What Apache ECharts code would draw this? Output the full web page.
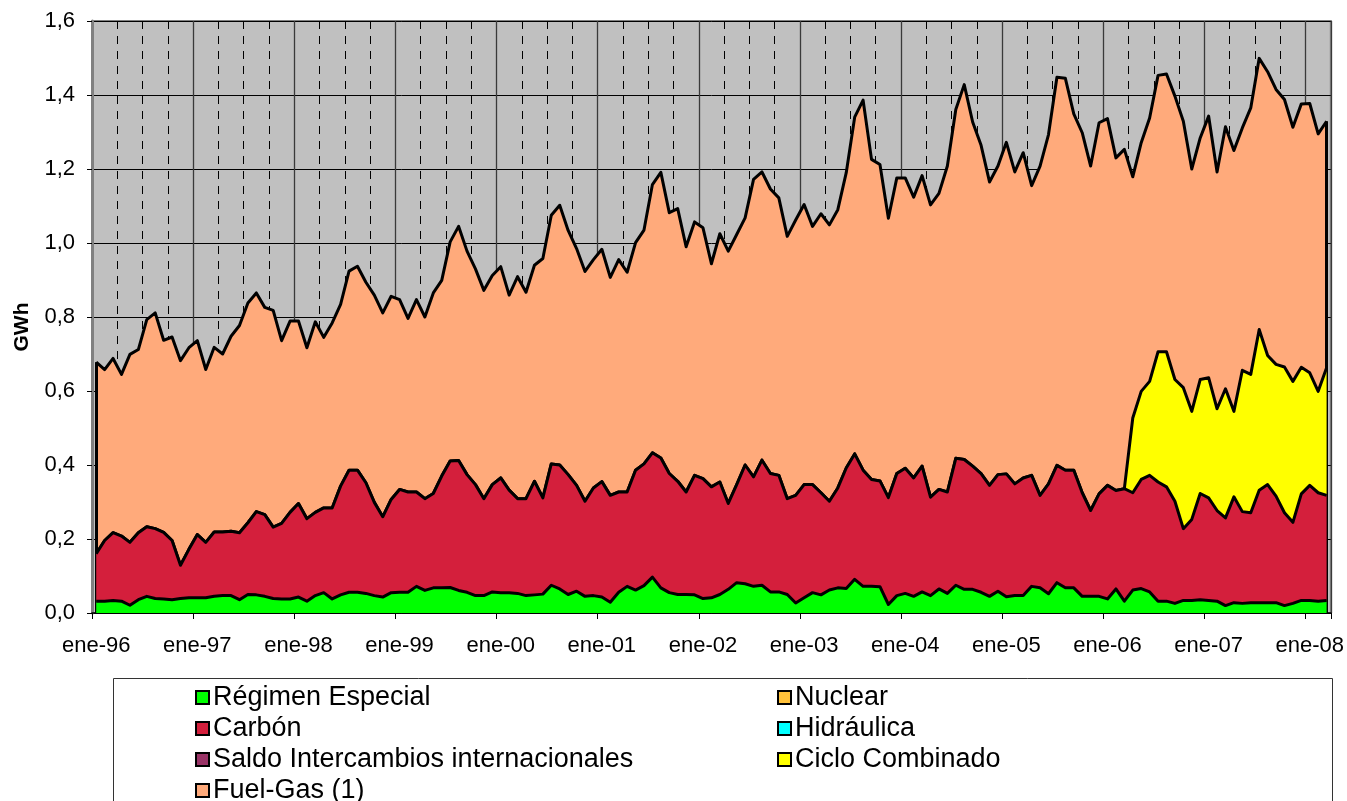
<!DOCTYPE html>
<html>
<head>
<meta charset="utf-8">
<script src="https://cdn.jsdelivr.net/npm/echarts@6/dist/echarts.min.js"></script>
<style>
html,body{margin:0;padding:0;background:#fff;}
#c{width:1347px;height:801px;}
</style>
</head>
<body>
<div id="c"></div>
<script>
// ---- data (GWh, monthly, ene-96 .. mar-08) ----
const meses = ['ene','feb','mar','abr','may','jun','jul','ago','sep','oct','nov','dic'];
const anios = ['96','97','98','99','00','01','02','03','04','05','06','07','08'];

const regimenEspecial = [
0.032,0.032,0.034,0.032,0.021,0.036,0.045,0.039,0.038,0.036,0.039,0.041,
0.041,0.041,0.045,0.047,0.047,0.036,0.050,0.049,0.045,0.039,0.038,0.038,
0.043,0.032,0.047,0.055,0.038,0.049,0.056,0.056,0.053,0.047,0.043,0.055,
0.056,0.056,0.072,0.061,0.068,0.068,0.069,0.061,0.056,0.047,0.047,0.057,
0.055,0.055,0.053,0.047,0.049,0.051,0.075,0.065,0.050,0.059,0.045,0.047,
0.043,0.029,0.056,0.072,0.062,0.074,0.097,0.068,0.055,0.050,0.050,0.049,
0.039,0.041,0.050,0.064,0.082,0.079,0.072,0.075,0.057,0.057,0.050,0.027,
0.041,0.055,0.049,0.062,0.068,0.066,0.091,0.072,0.072,0.071,0.023,0.047,
0.053,0.045,0.057,0.047,0.065,0.053,0.075,0.064,0.064,0.056,0.045,0.059,
0.044,0.047,0.047,0.072,0.068,0.052,0.082,0.068,0.068,0.045,0.045,0.045,
0.038,0.065,0.032,0.062,0.066,0.057,0.032,0.032,0.026,0.034,0.034,0.036,
0.034,0.032,0.020,0.028,0.026,0.028,0.028,0.028,0.028,0.020,0.026,0.034,
0.034,0.032,0.034
];
const nuclear = [];
const carbon = [
0.128,0.164,0.183,0.176,0.170,0.181,0.188,0.189,0.180,0.160,0.090,0.131,
0.171,0.150,0.174,0.172,0.174,0.181,0.194,0.225,0.221,0.193,0.204,0.234,
0.253,0.223,0.225,0.229,0.246,0.294,0.330,0.330,0.299,0.252,0.217,0.252,
0.278,0.271,0.255,0.248,0.255,0.302,0.342,0.351,0.318,0.300,0.262,0.290,
0.310,0.277,0.256,0.262,0.307,0.260,0.328,0.335,0.324,0.286,0.257,0.291,
0.312,0.289,0.271,0.255,0.324,0.329,0.336,0.351,0.322,0.306,0.277,0.323,
0.324,0.300,0.304,0.232,0.265,0.321,0.296,0.338,0.320,0.315,0.259,0.291,
0.306,0.292,0.276,0.240,0.270,0.326,0.339,0.314,0.289,0.286,0.289,0.330,
0.338,0.320,0.340,0.266,0.269,0.274,0.343,0.351,0.333,0.321,0.300,0.315,
0.332,0.302,0.318,0.300,0.250,0.297,0.317,0.318,0.318,0.280,0.232,0.277,
0.307,0.266,0.304,0.263,0.295,0.315,0.322,0.309,0.276,0.194,0.219,0.287,
0.277,0.245,0.237,0.286,0.248,0.243,0.304,0.319,0.288,0.251,0.219,0.288,
0.311,0.293,0.284
];
const hidraulica = [];
const saldoIntercambios = [];
const cicloCombinado = [
0,0,0,0,0,0,0,0,0,0,0,0,
0,0,0,0,0,0,0,0,0,0,0,0,
0,0,0,0,0,0,0,0,0,0,0,0,
0,0,0,0,0,0,0,0,0,0,0,0,
0,0,0,0,0,0,0,0,0,0,0,0,
0,0,0,0,0,0,0,0,0,0,0,0,
0,0,0,0,0,0,0,0,0,0,0,0,
0,0,0,0,0,0,0,0,0,0,0,0,
0,0,0,0,0,0,0,0,0,0,0,0,
0,0,0,0,0,0,0,0,0,0,0,0,
0,0,0,0.202,0.238,0.254,0.352,0.365,0.329,0.381,0.292,0.308,
0.325,0.275,0.349,0.231,0.382,0.374,0.434,0.349,0.356,0.394,0.381,0.342,
0.304,0.274,0.345
];
const fuelGas = [
0.518,0.462,0.471,0.437,0.508,0.495,0.560,0.583,0.519,0.550,0.553,0.545,
0.524,0.467,0.499,0.481,0.527,0.560,0.594,0.591,0.560,0.586,0.494,0.517,
0.493,0.462,0.515,0.461,0.500,0.491,0.538,0.551,0.542,0.560,0.551,0.549,
0.513,0.469,0.520,0.491,0.542,0.529,0.592,0.633,0.604,0.583,0.563,0.565,
0.571,0.527,0.600,0.558,0.584,0.647,0.672,0.702,0.660,0.640,0.621,0.617,
0.628,0.589,0.628,0.594,0.615,0.632,0.725,0.772,0.705,0.737,0.663,0.685,
0.678,0.603,0.671,0.682,0.676,0.668,0.804,0.779,0.769,0.750,0.709,0.744,
0.757,0.698,0.754,0.747,0.752,0.798,0.910,1.000,0.865,0.855,0.755,0.799,
0.785,0.759,0.785,0.790,0.800,0.881,0.943,1.013,0.930,0.887,0.820,0.834,
0.896,0.843,0.879,0.783,0.890,0.944,1.049,1.059,0.963,0.973,0.931,1.003,
0.991,0.899,0.917,0.652,0.672,0.712,0.747,0.751,0.766,0.720,0.655,0.653,
0.707,0.640,0.708,0.705,0.655,0.720,0.733,0.767,0.743,0.723,0.687,0.712,
0.728,0.696,0.666
];

// category labels ene-96 ... mar-08
const categorias = [];
anios.forEach(a => meses.forEach(m => categorias.push(m + '-' + a)));
categorias.length = regimenEspecial.length;

const yTicks = {min: 0, max: 1.6, interval: 0.2};

// ---- chart ----
const FONT = '"Liberation Sans", Arial, sans-serif';
const chart = echarts.init(document.getElementById('c'), null, {renderer: 'canvas'});

const first = 0, last = categorias.length - 1;
const totalAt = i => [regimenEspecial, carbon, cicloCombinado, fuelGas]
  .reduce((s, arr) => s + (arr[i] || 0), 0);

function areaSeries(name, data, color, z) {
  return {
    name: name, type: 'line', stack: 'total', data: data,
    xAxisIndex: 0, yAxisIndex: 0,
    symbol: 'none', showSymbol: false, z: z,
    itemStyle: {color: color},
    lineStyle: {color: '#000', width: 3, join: 'round'},
    areaStyle: {color: color, opacity: 1},
    emphasis: {disabled: true},
    silent: true
  };
}

const series = [
  areaSeries('Régimen Especial', regimenEspecial, '#00FF00', 10),
  areaSeries('Nuclear', nuclear, '#FFC13A', 9),
  areaSeries('Carbón', carbon, '#D41F3C', 8),
  areaSeries('Hidráulica', hidraulica, '#00FFFF', 7),
  areaSeries('Saldo Intercambios internacionales', saldoIntercambios, '#993366', 6),
  areaSeries('Ciclo Combinado', cicloCombinado, '#FFFF00', 5),
  areaSeries('Fuel-Gas (1)', fuelGas, '#FFAA7B', 4)
];
// outline edges of the stacked area at both ends
series[0].markLine = {
  silent: true, symbol: ['none', 'none'], label: {show: false},
  lineStyle: {color: '#000', width: 3, type: 'solid'},
  data: [
    [{coord: [categorias[first], 0]}, {coord: [categorias[first], totalAt(first)]}],
    [{coord: [categorias[last], 0]}, {coord: [categorias[last], totalAt(last)]}]
  ]
};

const legendCommon = {
  orient: 'vertical', icon: 'rect',
  itemWidth: 13, itemHeight: 13, itemGap: 4,
  selectedMode: false, height: 200,
  itemStyle: {borderColor: '#000', borderWidth: 2},
  textStyle: {fontSize: 27, fontFamily: FONT, color: '#000', lineHeight: 27, padding: [0,0,0,-1]},
  padding: 0
};

const option = {
  animation: false,
  backgroundColor: '#fff',
  grid: {
    left: 92, top: 21, width: 1239, height: 592,
    show: true, backgroundColor: '#C0C0C0',
    borderColor: '#808080', borderWidth: 2
  },
  xAxis: [
    {
      type: 'category', data: categorias, boundaryGap: true, position: 'bottom',
      axisLine: {show: true, onZero: false, lineStyle: {color: '#000', width: 1.5}},
      axisTick: {show: true, interval: 11, length: 6, lineStyle: {color: '#000', width: 1}},
      axisLabel: {interval: 11, fontSize: 22, fontFamily: FONT, color: '#000', margin: 22},
      splitLine: {show: true, interval: 2, lineStyle: {color: '#000', width: 1, type: [8, 7]}}
    },
    {
      type: 'category', data: categorias, boundaryGap: true, position: 'bottom',
      axisLine: {show: false}, axisTick: {show: false}, axisLabel: {show: false},
      splitLine: {show: true, interval: 11, lineStyle: {color: '#3a3a3a', width: 1.3, type: 'solid'}}
    }
  ],
  yAxis: {
    type: 'value', min: yTicks.min, max: yTicks.max, interval: yTicks.interval,
    axisLine: {show: true, lineStyle: {color: '#808080', width: 3}},
    axisTick: {show: true, length: 5, lineStyle: {color: '#000'}},
    axisLabel: {
      fontSize: 22, fontFamily: FONT, color: '#000', margin: 17,
      formatter: v => v.toFixed(1).replace('.', ',')
    },
    splitLine: {show: true, lineStyle: {color: '#000', width: 1}}
  },
  legend: [
    Object.assign({}, legendCommon, {
      left: 195, top: 684,
      data: ['Régimen Especial', 'Carbón', 'Saldo Intercambios internacionales']
    }),
    Object.assign({}, legendCommon, {
      left: 195, top: 777,
      data: ['Fuel-Gas (1)']
    }),
    Object.assign({}, legendCommon, {
      left: 777, top: 684,
      data: ['Nuclear', 'Hidráulica', 'Ciclo Combinado']
    })
  ],
  graphic: [
    {
      type: 'rect', z: 0, silent: true,
      shape: {x: 113.5, y: 678.5, width: 1219, height: 150},
      style: {fill: '#fff', stroke: '#333', lineWidth: 1}
    },
    {
      type: 'text', x: 22, y: 327, rotation: Math.PI / 2, silent: true,
      style: {
        text: 'GWh', fontSize: 21, fontWeight: 'bold', fontFamily: FONT, fill: '#000',
        align: 'center', verticalAlign: 'middle', textAlign: 'center', textVerticalAlign: 'middle'
      }
    }
  ],
  series: series
};
chart.setOption(option);
</script>
</body>
</html>
